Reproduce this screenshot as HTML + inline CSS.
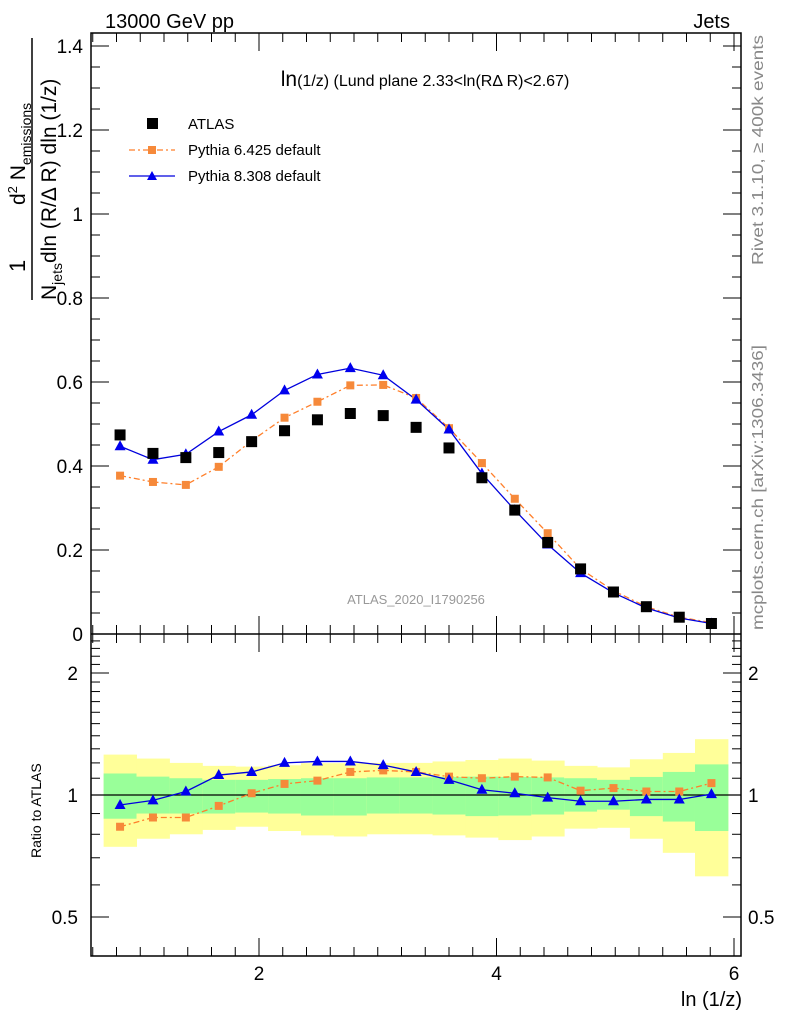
<!DOCTYPE html>
<html><head><meta charset="utf-8"><style>
html,body{margin:0;padding:0;background:#fff}
svg{display:block;font-family:"Liberation Sans",sans-serif}
</style></head><body>
<svg id="c" width="786" height="1024" viewBox="0 0 786 1024" xmlns="http://www.w3.org/2000/svg">
<g id="bands"></g>
<g id="axes"></g>
<g id="marks"></g>
<text x="105" y="28" font-size="20">13000 GeV pp</text>
<text x="730" y="28" font-size="20" text-anchor="end">Jets</text>
<text x="425" y="86" font-size="16" text-anchor="middle"><tspan font-size="21">ln</tspan>(1/z) (Lund plane 2.33&lt;ln(RΔ R)&lt;2.67)</text>
<text x="416" y="604" font-size="13" fill="#999" text-anchor="middle">ATLAS_2020_I1790256</text>
<text transform="translate(763,265) rotate(-90)" font-size="16" fill="#888" textLength="230" lengthAdjust="spacingAndGlyphs">Rivet 3.1.10, ≥ 400k events</text>
<text transform="translate(763,630) rotate(-90)" font-size="16" fill="#888" textLength="285" lengthAdjust="spacingAndGlyphs">mcplots.cern.ch [arXiv:1306.3436]</text>
<text x="742" y="1006" font-size="20" text-anchor="end">ln (1/z)</text>
<text transform="translate(41,858) rotate(-90)" font-size="14">Ratio to ATLAS</text>
<g>
<text transform="translate(25,272) rotate(-90)" font-size="22">1</text>
<line x1="32" y1="38" x2="32" y2="300" stroke="#000" stroke-width="1.5"/>
<text transform="translate(56,300) rotate(-90)" font-size="21">N<tspan font-size="14" dy="6">jets</tspan><tspan dy="-6">dln (R/Δ R) dln (1/z)</tspan></text>
<text transform="translate(25,205) rotate(-90)" font-size="21">d<tspan font-size="13" dy="-8">2</tspan><tspan dy="8"> N</tspan><tspan font-size="14" dy="6">emissions</tspan></text>
</g>
<g>
<rect x="147" y="118" width="11" height="11" fill="#000"/>
<text x="188" y="129" font-size="15">ATLAS</text>
<line x1="129" y1="150" x2="175" y2="150" stroke="#ff7f2a" stroke-width="1.3" stroke-dasharray="6,3,2,3"/>
<rect x="148" y="146" width="8" height="8" fill="#f6893a"/>
<text x="188" y="155" font-size="15">Pythia 6.425 default</text>
<line x1="129" y1="176" x2="175" y2="176" stroke="#0000dd" stroke-width="1.3"/>
<polygon points="152,171 157,180 147,180" fill="#0000ee"/>
<text x="188" y="181" font-size="15">Pythia 8.308 default</text>
</g>
</svg>
<script>
const xs=[0.83,1.107,1.384,1.661,1.938,2.215,2.492,2.769,3.046,3.323,3.6,3.877,4.154,4.431,4.708,4.985,5.262,5.539,5.81];
const atlas=[0.474,0.43,0.42,0.432,0.458,0.484,0.51,0.525,0.52,0.492,0.443,0.372,0.295,0.218,0.155,0.1,0.065,0.04,0.025];
const py6=[0.377,0.362,0.355,0.398,0.46,0.515,0.553,0.592,0.593,0.562,0.49,0.407,0.322,0.24,0.155,0.103,0.065,0.04,0.027];
const py8=[0.447,0.415,0.428,0.482,0.522,0.58,0.618,0.633,0.616,0.558,0.487,0.382,0.295,0.213,0.145,0.098,0.062,0.038,0.025];
const r6=[0.835,0.88,0.88,0.94,1.01,1.065,1.085,1.14,1.15,1.14,1.11,1.1,1.11,1.105,1.025,1.04,1.02,1.02,1.07];
const r8=[0.945,0.97,1.02,1.12,1.14,1.2,1.21,1.21,1.185,1.14,1.09,1.03,1.01,0.985,0.965,0.965,0.975,0.975,1.005];
const yUp=[1.258,1.23,1.2,1.18,1.175,1.184,1.198,1.198,1.2,1.2,1.21,1.22,1.23,1.216,1.18,1.17,1.225,1.27,1.373];
const yDn=[0.745,0.78,0.8,0.82,0.835,0.815,0.795,0.79,0.8,0.8,0.795,0.785,0.774,0.79,0.826,0.83,0.78,0.72,0.63];
const gUp=[1.13,1.11,1.1,1.09,1.09,1.095,1.1,1.1,1.105,1.105,1.108,1.11,1.108,1.105,1.1,1.09,1.108,1.14,1.19];
const gDn=[0.874,0.9,0.9,0.9,0.905,0.9,0.89,0.89,0.9,0.9,0.895,0.887,0.89,0.895,0.91,0.92,0.887,0.86,0.815];
const xTicks=[2,4,6];
const yTicks=[0,0.2,0.4,0.6,0.8,1,1.2,1.4];
const rTicks=[0.5,1,2];
const NS="http://www.w3.org/2000/svg";
const L=91,R=741,T=33,MB=634,RB=956;
const X=v=>21.5+v*118.75;
const Y=v=>634-v*420;
const RY=v=>795-Math.log2(v)*122;
const bw=0.277;
function mk(tag,at,parent){const e=document.createElementNS(NS,tag);for(const k in at)e.setAttribute(k,at[k]);document.getElementById(parent).appendChild(e);return e;}
for(let i=0;i<xs.length;i++){
 const x0=X(xs[i]-bw/2),w=X(xs[i]+bw/2)-x0;
 let e=mk('rect',{x:x0,y:RY(yUp[i]),width:w+0.5,height:RY(yDn[i])-RY(yUp[i]),fill:'#ffff99'},'bands');
 
 
 e=mk('rect',{x:x0,y:RY(gUp[i]),width:w+0.5,height:RY(gDn[i])-RY(gUp[i]),fill:'#99ff99'},'bands');
 
 
}
mk('rect',{x:L,y:T,width:R-L,height:RB-T,fill:'none',stroke:'#000','stroke-width':1.5},'axes');
mk('line',{x1:L,y1:MB,x2:R,y2:MB,stroke:'#000','stroke-width':1.5},'axes');
mk('line',{x1:L,y1:RY(1),x2:R,y2:RY(1),stroke:'#000','stroke-width':1.2},'axes');
for(let v=0.6;v<6.05;v+=0.2){const x=X(v);const maj=Math.abs(v-Math.round(v/2)*2)<0.01;const len=maj?18:9;
 for(const yb of [MB,RB]){mk('line',{x1:x,y1:yb,x2:x,y2:yb-len,stroke:'#000'},'axes');}
 mk('line',{x1:x,y1:T,x2:x,y2:T+len,stroke:'#000'},'axes');
 mk('line',{x1:x,y1:MB,x2:x,y2:MB+len,stroke:'#000'},'axes');}
for(const t of xTicks){const e=mk('text',{x:X(t),y:980,'font-size':19,'text-anchor':'middle'},'axes');e.textContent=t;
 
 }
for(let v=0;v<=1.42;v+=0.05){const y=Y(v);const maj=Math.abs(v*5-Math.round(v*5))<0.01;const len=maj?18:9;
 mk('line',{x1:L,y1:y,x2:L+len,y2:y,stroke:'#000'},'axes');mk('line',{x1:R,y1:y,x2:R-len,y2:y,stroke:'#000'},'axes');}
for(const t of yTicks){const e=mk('text',{x:83,y:Y(t)+7,'font-size':19,'text-anchor':'end'},'axes');e.textContent=t==0?'0':(t==1?'1':t.toFixed(1));
 
 }
for(const v of [0.4,0.5,0.6,0.7,0.8,0.9,1,1.1,1.2,1.3,1.4,1.5,1.6,1.7,1.8,1.9,2,2.1,2.2,2.3,2.4,2.5]){const y=RY(v);if(y<MB+2||y>RB-2)continue;const maj=[0.5,1,2].includes(v);const len=maj?18:9;
 mk('line',{x1:L,y1:y,x2:L+len,y2:y,stroke:'#000'},'axes');mk('line',{x1:R,y1:y,x2:R-len,y2:y,stroke:'#000'},'axes');}
for(const t of rTicks){let e=mk('text',{x:78,y:RY(t)+7,'font-size':19,'text-anchor':'end'},'axes');e.textContent=t;
 
 
 e=mk('text',{x:748,y:RY(t)+7,'font-size':19},'axes');e.textContent=t;
 
 }
function line(vals,f,col,dash,name){const p=mk('polyline',{points:xs.map((x,i)=>X(x)+','+f(vals[i])).join(' '),fill:'none',stroke:col,'stroke-width':1.3,'stroke-dasharray':dash},'marks');
 
 }
function sq(vals,f,col,s,name){xs.forEach((x,i)=>{const e=mk('rect',{x:X(x)-s/2,y:f(vals[i])-s/2,width:s,height:s,fill:col},'marks');
 
 });}
function tri(vals,f,name){xs.forEach((x,i)=>{const cx=X(x),cy=f(vals[i]);const e=mk('polygon',{points:`${cx},${cy-6} ${cx+5.5},${cy+4} ${cx-5.5},${cy+4}`,fill:'#0000ee'},'marks');
 
 });}
line(py6,Y,'#ff7f2a','6,3,2,3','pythia6-line');
line(py8,Y,'#0000dd','none','pythia8-line');
sq(py6,Y,'#f6893a',8,'pythia6-point');
tri(py8,Y,'pythia8-point');
sq(atlas,Y,'#000',11,'atlas-point');
line(r6,RY,'#ff7f2a','6,3,2,3','pythia6-ratio-line');
line(r8,RY,'#0000dd','none','pythia8-ratio-line');
sq(r6,RY,'#f6893a',8,'pythia6-ratio-point');
tri(r8,RY,'pythia8-ratio-point');
</script>
</body></html>
